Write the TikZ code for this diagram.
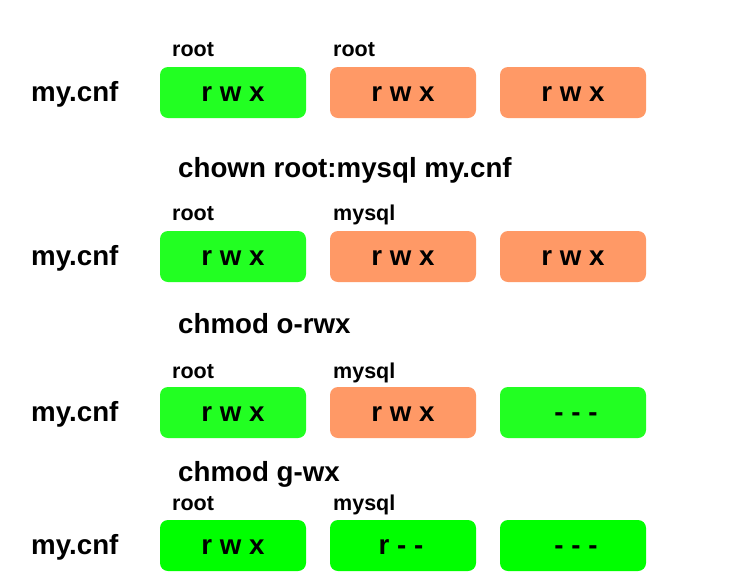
\documentclass[tikz,border=0pt]{standalone}
\usepackage{fontspec}
\setmainfont{Liberation Sans}
\definecolor{okgreen}{RGB}{34,255,34}
\definecolor{puregreen}{RGB}{0,255,0}
\definecolor{warnorange}{RGB}{255,153,102}
\tikzset{
  permbox/.style={minimum width=146pt, minimum height=51pt, rounded corners=8pt, inner sep=0pt},
  filelabel/.style={anchor=base west, inner sep=0pt, font=\fontsize{27.7}{27.7}\selectfont\bfseries},
  cmdlabel/.style={anchor=base west, inner sep=0pt, font=\fontsize{27.7}{27.7}\selectfont\bfseries},
  ownerlabel/.style={anchor=base west, inner sep=0pt, font=\fontsize{21.5}{21.5}\selectfont\bfseries},
  boxtext/.style={anchor=base, inner sep=0pt, font=\fontsize{27.7}{27.7}\selectfont\bfseries}
}
\begin{document}
\begin{tikzpicture}[x=1pt,y=-1pt]
\useasboundingbox[fill=white] (0,0) rectangle (754,582);
% row 1
\node[ownerlabel] (o1a) at (172,56) {root};
\node[ownerlabel] (o1b) at (333,56) {root};
\node[filelabel] (f1) at (31,101.5) {my.cnf};
\node[permbox, fill=okgreen] (b1a) at (233,92.5) {};
\node[permbox, fill=warnorange] (b1b) at (403,92.5) {};
\node[permbox, fill=warnorange] (b1c) at (573,92.5) {};
\node[boxtext] (t1a) at (233,101.5) {r w x};
\node[boxtext] (t1b) at (403,101.5) {r w x};
\node[boxtext] (t1c) at (573,101.5) {r w x};
\node[cmdlabel] (c1) at (178,177) {chown root:mysql my.cnf};
% row 2
\node[ownerlabel] (o2a) at (172,220) {root};
\node[ownerlabel] (o2b) at (333,220) {mysql};
\node[filelabel] (f2) at (31,265.5) {my.cnf};
\node[permbox, fill=okgreen] (b2a) at (233,256.5) {};
\node[permbox, fill=warnorange] (b2b) at (403,256.5) {};
\node[permbox, fill=warnorange] (b2c) at (573,256.5) {};
\node[boxtext] (t2a) at (233,265.5) {r w x};
\node[boxtext] (t2b) at (403,265.5) {r w x};
\node[boxtext] (t2c) at (573,265.5) {r w x};
\node[cmdlabel] (c2) at (178,333) {chmod o-rwx};
% row 3
\node[ownerlabel] (o3a) at (172,378) {root};
\node[ownerlabel] (o3b) at (333,378) {mysql};
\node[filelabel] (f3) at (31,421.5) {my.cnf};
\node[permbox, fill=okgreen] (b3a) at (233,412.5) {};
\node[permbox, fill=warnorange] (b3b) at (403,412.5) {};
\node[permbox, fill=okgreen] (b3c) at (573,412.5) {};
\node[boxtext] (t3a) at (233,421.5) {r w x};
\node[boxtext] (t3b) at (403,421.5) {r w x};
\node[boxtext] (t3c) at (576,421.5) {- - -};
\node[cmdlabel] (c3) at (178,481) {chmod g-wx};
% row 4
\node[ownerlabel] (o4a) at (172,510) {root};
\node[ownerlabel] (o4b) at (333,510) {mysql};
\node[filelabel] (f4) at (31,554.5) {my.cnf};
\node[permbox, fill=puregreen] (b4a) at (233,545.5) {};
\node[permbox, fill=puregreen] (b4b) at (403,545.5) {};
\node[permbox, fill=puregreen] (b4c) at (573,545.5) {};
\node[boxtext] (t4a) at (233,554.5) {r w x};
\node[boxtext] (t4b) at (401,554.5) {r - -};
\node[boxtext] (t4c) at (576,554.5) {- - -};
\end{tikzpicture}
\end{document}
